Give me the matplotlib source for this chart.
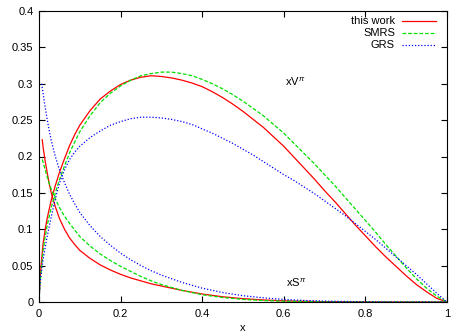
import matplotlib
matplotlib.use("Agg")
from matplotlib import pyplot as plt

plt.rcParams['font.family'] = ['Liberation Sans', 'DejaVu Sans']
plt.rcParams['mathtext.fontset'] = 'custom'
plt.rcParams['mathtext.rm'] = 'Liberation Sans'
plt.rcParams['mathtext.it'] = 'Liberation Sans:italic'

# valence distributions xV(x)
xv_x = [0.0, 0.0025, 0.005, 0.01, 0.015, 0.02, 0.03, 0.04, 0.05, 0.0625, 0.075, 0.0875,
        0.1, 0.125, 0.15, 0.175, 0.2, 0.225, 0.25, 0.275, 0.3, 0.325, 0.35, 0.375, 0.4,
        0.425, 0.45, 0.475, 0.5, 0.525, 0.55, 0.575, 0.6, 0.625, 0.65, 0.675, 0.7, 0.725,
        0.75, 0.775, 0.8, 0.825, 0.85, 0.875, 0.9, 0.925, 0.95, 0.975, 1.0]
xv_this = [0.0, 0.03, 0.05, 0.08, 0.099, 0.115, 0.140, 0.160, 0.178, 0.197, 0.215, 0.230,
           0.243, 0.263, 0.279, 0.290, 0.299, 0.305, 0.309, 0.311, 0.310, 0.308, 0.305, 0.301, 0.296,
           0.289, 0.281, 0.272, 0.262, 0.251, 0.240, 0.227, 0.214, 0.199, 0.184, 0.169, 0.153, 0.138,
           0.122, 0.106, 0.091, 0.076, 0.062, 0.049, 0.036, 0.024, 0.014, 0.005, 0.0]
xv_smrs = [0.0, 0.025, 0.04, 0.07, 0.089, 0.105, 0.130, 0.150, 0.168, 0.187, 0.205, 0.220,
           0.234, 0.256, 0.274, 0.287, 0.297, 0.305, 0.311, 0.314, 0.316, 0.316, 0.314, 0.311, 0.306,
           0.300, 0.293, 0.285, 0.276, 0.266, 0.256, 0.244, 0.232, 0.218, 0.204, 0.190, 0.175, 0.160,
           0.144, 0.128, 0.112, 0.096, 0.079, 0.063, 0.047, 0.032, 0.019, 0.008, 0.0]
xv_grs = [0.0, 0.025, 0.037, 0.058, 0.075, 0.090, 0.117, 0.142, 0.163, 0.182, 0.196, 0.206,
          0.214, 0.226, 0.235, 0.243, 0.248, 0.252, 0.254, 0.254, 0.253, 0.251, 0.248, 0.244, 0.238,
          0.232, 0.225, 0.218, 0.210, 0.202, 0.193, 0.184, 0.175, 0.167, 0.158, 0.149, 0.139, 0.129,
          0.119, 0.108, 0.097, 0.086, 0.074, 0.062, 0.050, 0.038, 0.025, 0.012, 0.0]

# sea distributions xS(x)
xs_this_x = [0.008, 0.01, 0.015, 0.02, 0.025, 0.03, 0.04, 0.05, 0.0625, 0.075, 0.0875, 0.1,
             0.125, 0.15, 0.175, 0.2, 0.225, 0.25, 0.275, 0.3, 0.35, 0.4, 0.45, 0.5, 0.55,
             0.6, 0.65, 0.7, 0.8, 0.9, 1.0]
xs_this = [0.223, 0.213, 0.194, 0.178, 0.163, 0.150, 0.131, 0.115, 0.100, 0.088, 0.079, 0.071,
           0.060, 0.051, 0.044, 0.038, 0.033, 0.029, 0.025, 0.022, 0.016, 0.011, 0.0072, 0.0046, 0.0028,
           0.0016, 0.0009, 0.0005, 0.0001, 0.0, 0.0]
xs_smrs_x = [0.008, 0.01, 0.015, 0.02, 0.025, 0.03, 0.04, 0.05, 0.0625, 0.075, 0.0875, 0.1,
             0.125, 0.15, 0.175, 0.2, 0.225, 0.25, 0.275, 0.3, 0.35, 0.4, 0.45, 0.5, 0.55,
             0.6, 0.7, 0.8, 1.0]
xs_smrs = [0.196, 0.192, 0.182, 0.172, 0.163, 0.155, 0.142, 0.130, 0.118, 0.108, 0.099, 0.090,
           0.077, 0.066, 0.057, 0.049, 0.042, 0.035, 0.029, 0.024, 0.016, 0.010, 0.0062, 0.0036, 0.002,
           0.0011, 0.0003, 0.0001, 0.0]
xs_grs_x = [0.0065, 0.01, 0.015, 0.02, 0.025, 0.03, 0.04, 0.05, 0.0625, 0.075, 0.0875, 0.1,
            0.125, 0.15, 0.175, 0.2, 0.225, 0.25, 0.275, 0.3, 0.35, 0.4, 0.45, 0.5, 0.55,
            0.6, 0.65, 0.7, 0.8, 0.9, 1.0]
xs_grs = [0.300, 0.287, 0.268, 0.251, 0.236, 0.222, 0.200, 0.182, 0.164, 0.148, 0.135, 0.123,
          0.105, 0.090, 0.078, 0.067, 0.058, 0.050, 0.043, 0.037, 0.027, 0.019, 0.013, 0.0087, 0.0057,
          0.0035, 0.0021, 0.0012, 0.0003, 0.0, 0.0]

labels = ['this work', 'SMRS', 'GRS']
colors = ['#ff0000', '#00e000', '#0000ff']
styles = ['-', (0, (3, 1.5)), (0, (1, 1.5))]

xticks = [0, 0.2, 0.4, 0.6, 0.8, 1]
xticklabels = ['0', '0.2', '0.4', '0.6', '0.8', '1']
yticks = [0, 0.05, 0.1, 0.15, 0.2, 0.25, 0.3, 0.35, 0.4]
yticklabels = ['0', '0.05', '0.1', '0.15', '0.2', '0.25', '0.3', '0.35', '0.4']

fig = plt.figure(figsize=(4.53, 3.36), dpi=100)
ax = fig.add_axes([39 / 453, 1 - 302 / 336, 408 / 453, 291 / 336])

valence = [xv_this, xv_smrs, xv_grs]
sea = [(xs_this_x, xs_this), (xs_smrs_x, xs_smrs), (xs_grs_x, xs_grs)]
for i in range(3):
    ax.plot(xv_x, valence[i], color=colors[i], ls=styles[i], lw=0.9)
    ax.plot(sea[i][0], sea[i][1], color=colors[i], ls=styles[i], lw=0.9)

ax.set_xlim(0, 1)
ax.set_ylim(0, 0.4)
ax.set_xticks(xticks)
ax.set_xticklabels(xticklabels)
ax.set_yticks(yticks)
ax.set_yticklabels(yticklabels)
ax.tick_params(direction='in', top=True, right=True, length=4, width=0.8, labelsize=8)
ax.tick_params(axis='x', pad=5)
ax.tick_params(axis='y', pad=4)
ax.set_xlabel('x', fontsize=8, labelpad=3)

ax.text(0.603, 0.303, r'xV$^{\pi}$', fontsize=8, va='center')
ax.text(0.605, 0.027, r'xS$^{\pi}$', fontsize=8, va='center')

# gnuplot-style key: right-aligned text, sample line to its right
for i in range(3):
    y = 0.966 - 0.041 * i
    ax.text(0.8725, y, labels[i], ha='right', va='center', fontsize=8, transform=ax.transAxes)
    ax.plot([0.89, 0.973], [y, y], color=colors[i], ls=styles[i], lw=0.9, transform=ax.transAxes)

fig.savefig('out.png', dpi=100)
